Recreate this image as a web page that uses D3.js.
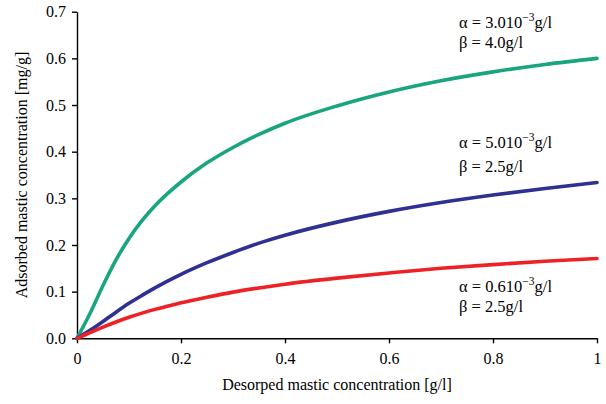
<!DOCTYPE html>
<html>
<head>
<meta charset="utf-8">
<script src="https://cdn.jsdelivr.net/npm/d3@7"></script>
<style>
  html, body { margin: 0; padding: 0; background: #fff; }
  svg { display: block; }
  .axis path, .axis line { stroke: #000; stroke-width: 1.4; }
</style>
</head>
<body>
<svg id="chart" width="606" height="404"></svg>
<script>
const SERIF = "'Liberation Serif', 'Times New Roman', serif";

// Desorbed concentration (g/l) at which each isotherm is sampled
const xValues = [0, 0.025, 0.05, 0.075, 0.1, 0.125, 0.15, 0.175, 0.2, 0.25, 0.3, 0.35, 0.4, 0.5, 0.6, 0.7, 0.8, 0.9, 1.0];

// Adsorbed concentration (mg/g) for each parameter set
const greenSeries = [0, 0.053, 0.113, 0.168, 0.214, 0.252, 0.284, 0.311, 0.335, 0.376, 0.409, 0.437, 0.461, 0.498, 0.528, 0.552, 0.571, 0.587, 0.600];
const blueSeries  = [0, 0.017, 0.036, 0.056, 0.075, 0.092, 0.108, 0.123, 0.137, 0.162, 0.184, 0.204, 0.221, 0.249, 0.272, 0.291, 0.307, 0.321, 0.334];
const redSeries   = [0, 0.012, 0.024, 0.035, 0.045, 0.054, 0.062, 0.069, 0.076, 0.088, 0.099, 0.108, 0.116, 0.129, 0.140, 0.150, 0.158, 0.165, 0.171];

const xTicks = [0, 0.2, 0.4, 0.6, 0.8, 1];
const yTicks = [0, 0.1, 0.2, 0.3, 0.4, 0.5, 0.6, 0.7];

// Parameter annotations: alpha mantissa, beta value
const seriesInfo = [
  { name: "green", values: greenSeries, color: "#18a57f", alpha: "3.010", beta: "4.0", ay: 28, by: 48 },
  { name: "blue",  values: blueSeries,  color: "#2e3192", alpha: "5.010", beta: "2.5", ay: 148, by: 172 },
  { name: "red",   values: redSeries,   color: "#ec2227", alpha: "0.610", beta: "2.5", ay: 292, by: 312 }
];

const svg = d3.select("#chart");
const margin = { left: 77, right: 9, top: 11.7, bottom: 65.7 };
const W = 606, H = 404;

const x = d3.scaleLinear().domain([0, 1]).range([margin.left, W - margin.right]);
const y = d3.scaleLinear().domain([0, 0.7]).range([H - margin.bottom, margin.top]);

// Axes
svg.append("g")
  .attr("class", "axis")
  .attr("transform", `translate(0,${y(0)})`)
  .call(d3.axisBottom(x).tickValues(xTicks).tickSize(5).tickSizeOuter(0).tickPadding(9)
    .tickFormat(d => d === 0 ? "0" : d === 1 ? "1" : d3.format(".1f")(d)))
  .attr("font-family", SERIF)
  .attr("font-size", 16);

svg.append("g")
  .attr("class", "axis")
  .attr("transform", `translate(${x(0)},0)`)
  .call(d3.axisLeft(y).tickValues(yTicks).tickSize(5).tickSizeOuter(0).tickPadding(6)
    .tickFormat(d3.format(".1f")))
  .attr("font-family", SERIF)
  .attr("font-size", 16);

svg.selectAll(".axis text").attr("fill", "#000");

// Curves
const line = d3.line()
  .x((d, i) => x(xValues[i]))
  .y(d => y(d))
  .curve(d3.curveMonotoneX);

seriesInfo.forEach(s => {
  svg.append("path")
    .datum(s.values)
    .attr("fill", "none")
    .attr("stroke", s.color)
    .attr("stroke-width", 3.6)
    .attr("stroke-linecap", "round")
    .attr("d", line);
});

// Annotations
const ann = svg.append("g").attr("font-family", SERIF).attr("font-size", 16.5).attr("fill", "#000");
seriesInfo.forEach(s => {
  const t = ann.append("text").attr("x", 459).attr("y", s.ay);
  t.append("tspan").text(`\u03B1 = ${s.alpha}`);
  t.append("tspan").attr("font-size", 11.5).attr("dy", -7).text("\u22123");
  t.append("tspan").attr("dy", 7).text("g/l");
  ann.append("text").attr("x", 459).attr("y", s.by).text(`\u03B2 = ${s.beta}g/l`);
});

// Axis titles
svg.append("text")
  .attr("x", (x(0) + x(1)) / 2)
  .attr("y", 390)
  .attr("text-anchor", "middle")
  .attr("font-family", SERIF)
  .attr("font-size", 16)
  .text("Desorped mastic concentration [g/l]");

svg.append("text")
  .attr("transform", `translate(27,${(y(0) + y(0.7)) / 2}) rotate(-90)`)
  .attr("text-anchor", "middle")
  .attr("font-family", SERIF)
  .attr("font-size", 16)
  .text("Adsorbed mastic concentration [mg/g]");
</script>
</body>
</html>
